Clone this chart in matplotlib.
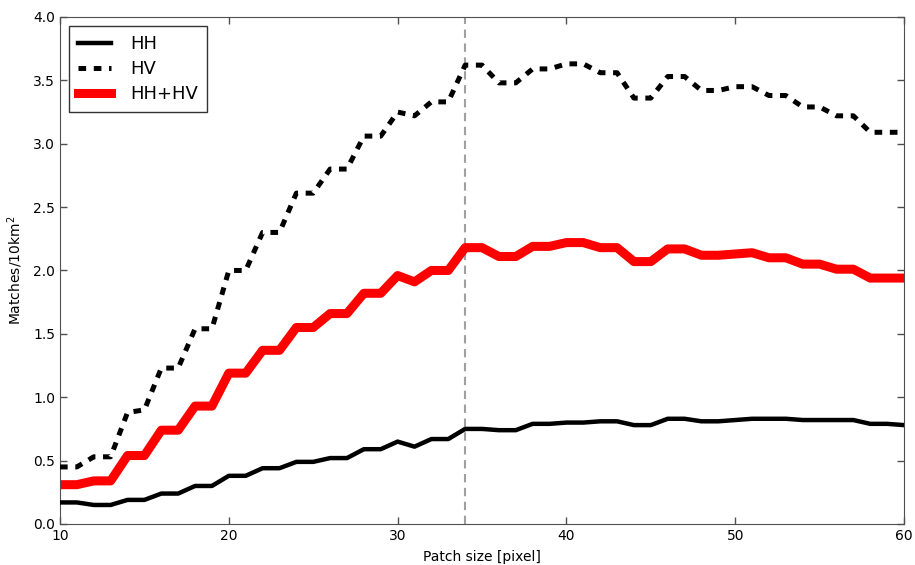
import matplotlib
matplotlib.use('Agg')
import matplotlib.pyplot as plt

# patch sizes (pixel)
patch_size = list(range(10, 61))

hh = [0.17, 0.17, 0.15, 0.15, 0.19, 0.19, 0.24, 0.24, 0.30, 0.30,
      0.38, 0.38, 0.44, 0.44, 0.49, 0.49, 0.52, 0.52, 0.59, 0.59,
      0.65, 0.61, 0.67, 0.67, 0.75, 0.75, 0.74, 0.74, 0.79, 0.79,
      0.80, 0.80, 0.81, 0.81, 0.78, 0.78, 0.83, 0.83, 0.81, 0.81,
      0.82, 0.83, 0.83, 0.83, 0.82, 0.82, 0.82, 0.82, 0.79, 0.79,
      0.78]

hv = [0.45, 0.45, 0.53, 0.53, 0.88, 0.90, 1.23, 1.23, 1.54, 1.54,
      2.00, 2.00, 2.30, 2.30, 2.61, 2.61, 2.80, 2.80, 3.06, 3.06,
      3.25, 3.22, 3.33, 3.33, 3.62, 3.62, 3.48, 3.48, 3.59, 3.59,
      3.63, 3.63, 3.56, 3.56, 3.36, 3.36, 3.53, 3.53, 3.42, 3.42,
      3.45, 3.45, 3.38, 3.38, 3.29, 3.29, 3.22, 3.22, 3.09, 3.09,
      3.09]

hh_hv = [0.31, 0.31, 0.34, 0.34, 0.54, 0.54, 0.74, 0.74, 0.93, 0.93,
         1.19, 1.19, 1.37, 1.37, 1.55, 1.55, 1.66, 1.66, 1.82, 1.82,
         1.96, 1.91, 2.00, 2.00, 2.18, 2.18, 2.11, 2.11, 2.19, 2.19,
         2.22, 2.22, 2.18, 2.18, 2.07, 2.07, 2.17, 2.17, 2.12, 2.12,
         2.13, 2.14, 2.10, 2.10, 2.05, 2.05, 2.01, 2.01, 1.94, 1.94,
         1.94]

best_patch = 34

plt.rcParams['lines.scale_dashes'] = False

fig = plt.figure(figsize=(9.15, 5.65), dpi=100)
ax = fig.add_axes([0.0656, 0.0726, 0.9224, 0.8974])

ax.axvline(best_patch, color='#a0a0a0', lw=1.5, linestyle=(0, (6, 4)), zorder=1)
ax.plot(patch_size, hh, color='black', lw=3.2, label='HH', zorder=3)
ax.plot(patch_size, hv, color='black', lw=3.6, linestyle=(0, (5.5, 5.5)), label='HV', zorder=3)
ax.plot(patch_size, hh_hv, color='red', lw=6.5, label='HH+HV', zorder=2)

ax.set_xlim(10, 60)
ax.set_ylim(0, 4)
ax.set_xticks(range(10, 61, 10))
ax.set_yticks([0.0, 0.5, 1.0, 1.5, 2.0, 2.5, 3.0, 3.5, 4.0])
ax.set_yticklabels(['0.0', '0.5', '1.0', '1.5', '2.0', '2.5', '3.0', '3.5', '4.0'])
ax.tick_params(direction='in', top=True, right=True, length=5, width=1,
               color='#505050', labelsize=10, pad=3.5)
for sp in ax.spines.values():
    sp.set_color('#505050')

ax.set_xlabel('Patch size [pixel]', fontsize=10, labelpad=5)
ax.set_ylabel(r'Matches/10km$^2$', fontsize=10, labelpad=6)

leg = ax.legend(loc='upper left', fontsize=13, handlelength=1.8, fancybox=False,
                borderpad=0.5, labelspacing=0.4, handletextpad=1.1)
leg.get_frame().set_edgecolor('black')
leg.get_frame().set_linewidth(1)

fig.savefig('out.png', dpi=100)
